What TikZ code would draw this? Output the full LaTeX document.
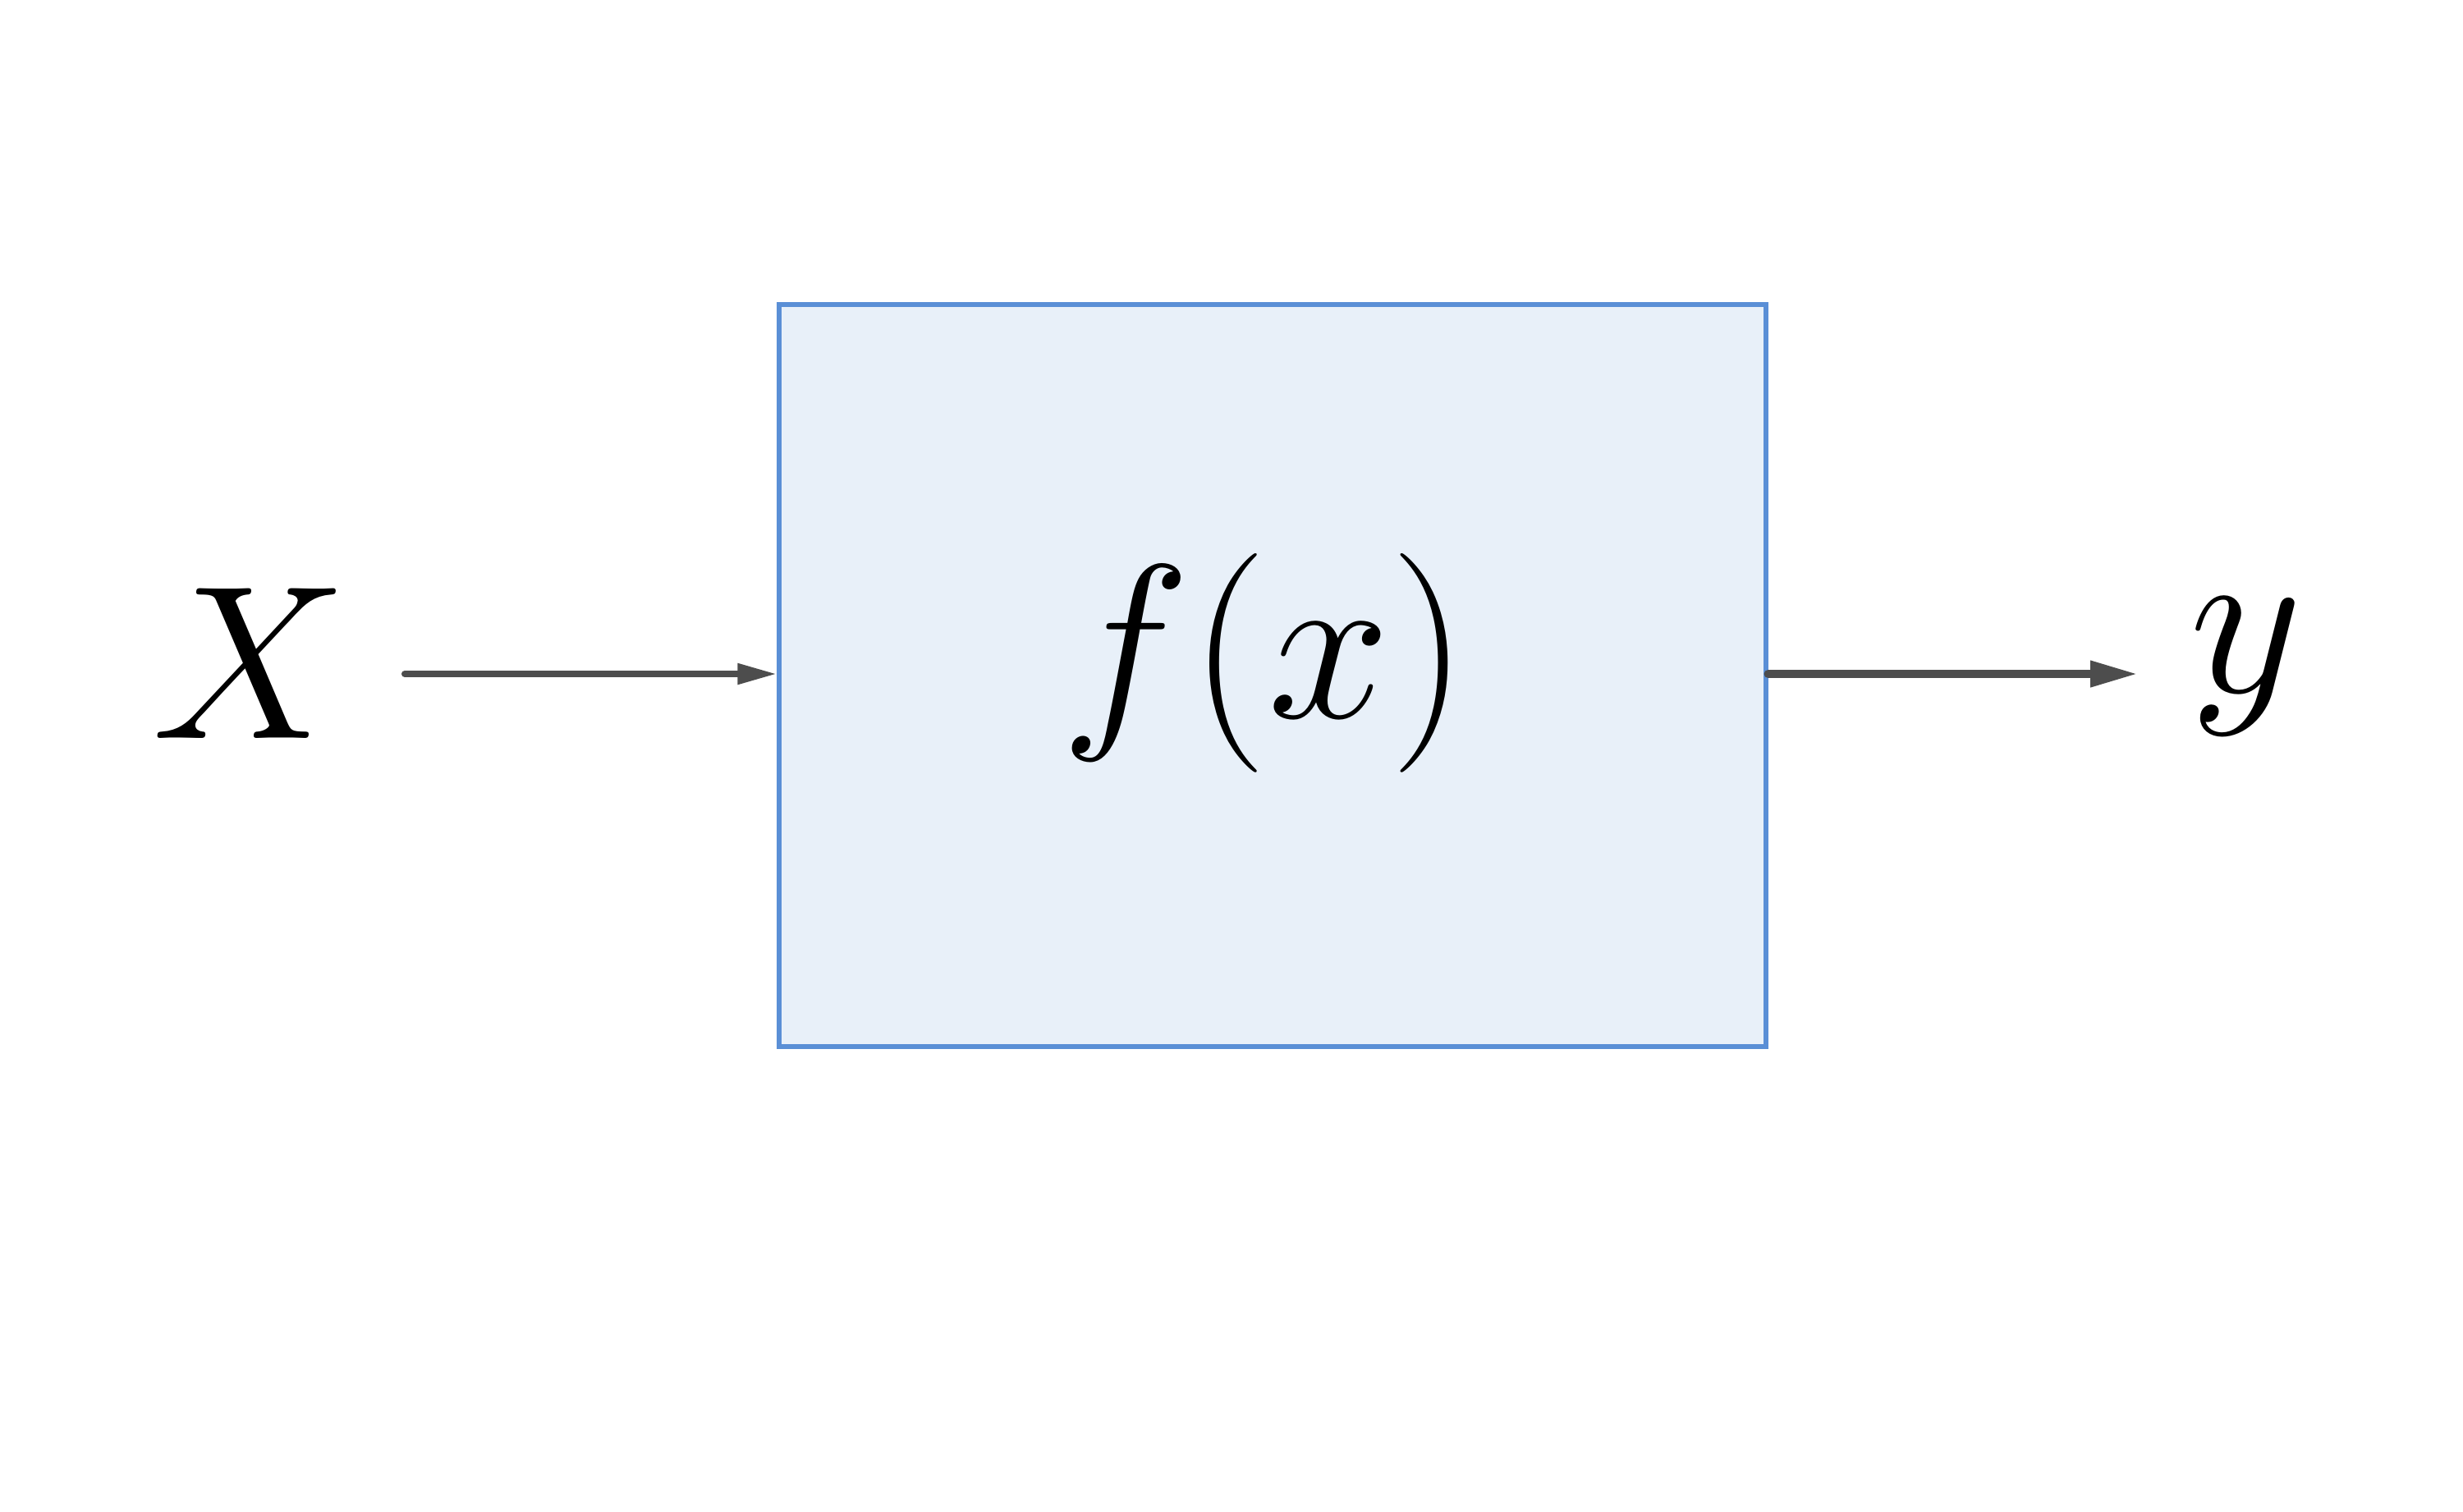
\documentclass[tikz,border=0pt]{standalone}
\usetikzlibrary{arrows.meta}

\definecolor{boxfill}{HTML}{E8F0F9}
\definecolor{boxline}{HTML}{5A8FD6}
\definecolor{flowgray}{HTML}{4D4D4D}

\tikzstyle{block}=[rectangle,draw=boxline,fill=boxfill,line width=1.5pt,minimum width=12.02cm,minimum height=9.04cm,inner sep=0pt]
\tikzstyle{sym}=[inner sep=0pt,font=\Huge,scale=3.055]
\tikzstyle{flowin}=[draw=flowgray,line width=2.3pt,line cap=round,-{Triangle[length=0.48cm,width=0.24cm]}]
\tikzstyle{flowout}=[draw=flowgray,line width=2.9pt,line cap=round,-{Triangle[length=0.58cm,width=0.30cm]}]

\begin{document}
\begin{tikzpicture}[scale=1.0]
        \useasboundingbox (0,0) rectangle (30,-18.41);
        \draw (15.50,-8.23) node[block](box){};
        \draw (15.40,-8.08) node[sym](fx){$f(x)$};
        \draw (3.05,-8.08) node[sym](X){$X$};
        \draw (27.36,-8.12) node[sym](y){$y$};
        \coordinate (in) at (4.93,-8.21);
        \coordinate (out) at (26.04,-8.21);
        %
        \draw[flowin]  (in) -- (in -| box.west);
        \draw[flowout] (out -| box.east) -- (out);
        %
\end{tikzpicture}
\end{document}
